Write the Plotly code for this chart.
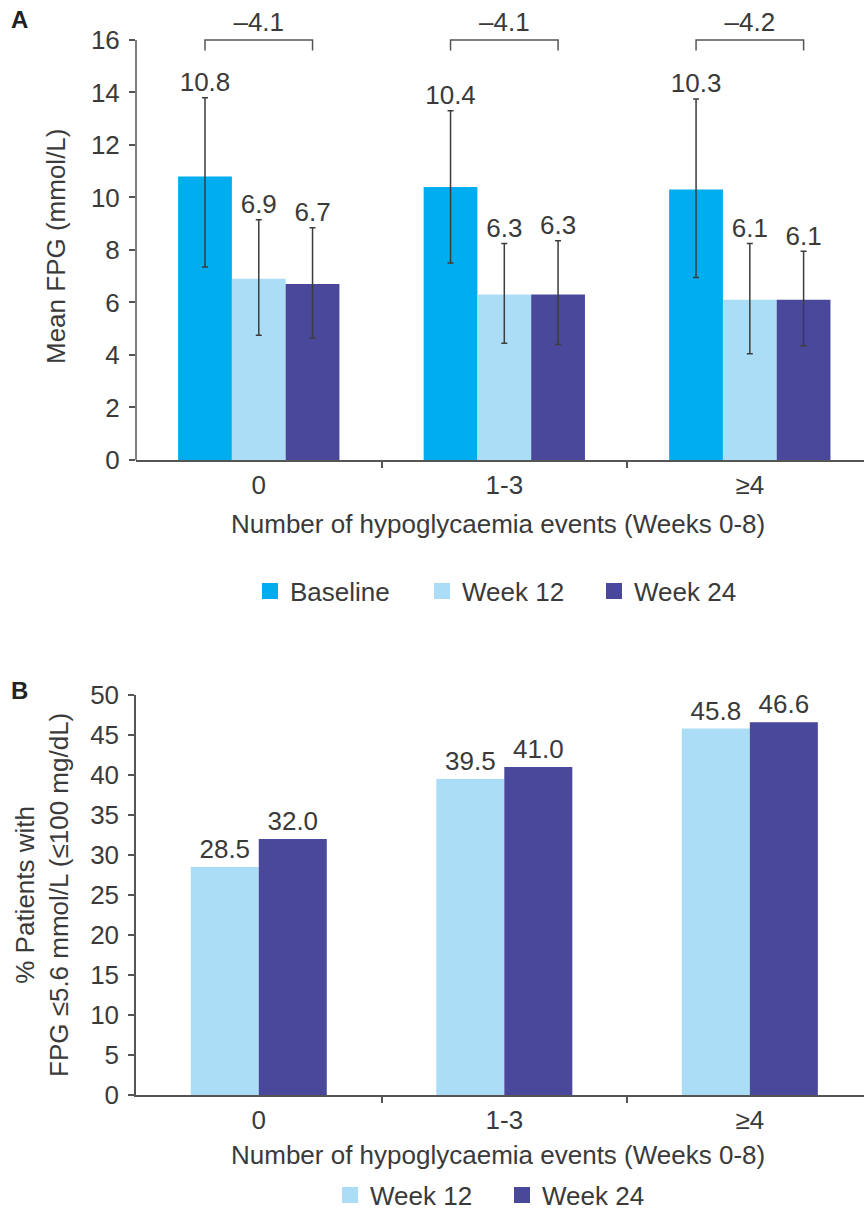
import plotly.graph_objects as go

# ---------------- data ----------------
categories = ["0", "1-3", "≥4"]
series_a = ["Baseline", "Week 12", "Week 24"]
fpg_mean = {
    "Baseline": [10.8, 10.4, 10.3],
    "Week 12": [6.9, 6.3, 6.1],
    "Week 24": [6.7, 6.3, 6.1],
}
fpg_upper = {
    "Baseline": [13.8, 13.3, 13.75],
    "Week 12": [9.15, 8.25, 8.25],
    "Week 24": [8.85, 8.35, 7.95],
}
fpg_lower = {
    "Baseline": [7.35, 7.5, 6.95],
    "Week 12": [4.75, 4.45, 4.05],
    "Week 24": [4.65, 4.4, 4.35],
}
change_labels = ["–4.1", "–4.1", "–4.2"]

series_b = ["Week 12", "Week 24"]
pct_target = {
    "Week 12": [28.5, 39.5, 45.8],
    "Week 24": [32.0, 41.0, 46.6],
}

yticks_a = [0, 2, 4, 6, 8, 10, 12, 14, 16]
yticks_b = [0, 5, 10, 15, 20, 25, 30, 35, 40, 45, 50]

colors = {"Baseline": "#00AEEF", "Week 12": "#ABDEF6", "Week 24": "#49489B"}

# ---------------- style ----------------
W, H = 864, 1218
FONT = "Liberation Sans, Arial, Helvetica, sans-serif"
TXT = "#3a3a3a"
AX = "#555555"
FS = 26

def px(xp):
    return xp / W

def py(yp):
    return 1 - yp / H

fig = go.Figure()
idx = list(range(len(categories)))

# ---- panel A ----
wa = 0.219
for j, s in enumerate(series_a):
    off = (j - 1) * wa
    xs = [i + off for i in idx]
    up = [u - m for u, m in zip(fpg_upper[s], fpg_mean[s])]
    dn = [m - l for m, l in zip(fpg_mean[s], fpg_lower[s])]
    fig.add_trace(go.Bar(
        x=xs, y=fpg_mean[s], width=wa, name=s, marker=dict(color=colors[s], line=dict(width=0)),
        error_y=dict(type="data", symmetric=False, array=up, arrayminus=dn,
                     color="#3c3c3c", thickness=1.5, width=3),
        xaxis="x", yaxis="y", showlegend=False,
    ))
    fig.add_trace(go.Scatter(
        x=xs, y=fpg_upper[s], mode="text", text=[f"{v:.1f}" for v in fpg_mean[s]],
        textposition="top center", textfont=dict(size=FS, color=TXT, family=FONT),
        cliponaxis=False, showlegend=False, hoverinfo="skip", xaxis="x", yaxis="y",
    ))
    # legend entry (square swatch)
    fig.add_trace(go.Scatter(
        x=[None], y=[None], mode="markers", name=s,
        marker=dict(symbol="square", size=16, color=colors[s]),
        xaxis="x", yaxis="y", legend="legend", showlegend=True,
    ))

# brackets
for i in idx:
    xl, xr = i - wa, i + wa
    fig.add_trace(go.Scatter(
        x=[xl, xl, xr, xr], y=[15.6, 16, 16, 15.6], mode="lines",
        line=dict(color=AX, width=1.5), showlegend=False, hoverinfo="skip",
        xaxis="x", yaxis="y",
    ))
fig.add_trace(go.Scatter(
    x=idx, y=[16.1] * len(idx), mode="text", text=change_labels,
    textposition="top center", textfont=dict(size=FS, color=TXT, family=FONT),
    cliponaxis=False, showlegend=False, hoverinfo="skip", xaxis="x", yaxis="y",
))

# ---- panel B ----
wb = 0.277
for j, s in enumerate(series_b):
    off = (j - 0.5) * wb
    xs = [i + off for i in idx]
    fig.add_trace(go.Bar(
        x=xs, y=pct_target[s], width=wb, name=s, marker=dict(color=colors[s], line=dict(width=0)),
        text=[f"{v:.1f}" for v in pct_target[s]], textposition="outside",
        textfont=dict(size=FS, color=TXT, family=FONT), cliponaxis=False,
        xaxis="x2", yaxis="y2", showlegend=False,
    ))
    fig.add_trace(go.Scatter(
        x=[None], y=[None], mode="markers", name=s,
        marker=dict(symbol="square", size=16, color=colors[s]),
        xaxis="x2", yaxis="y2", legend="legend2", showlegend=True,
    ))

xdom = [px(136), 1.0]
xrange_ = [-0.5, 2.465]

def xaxis_cfg(anchor):
    return dict(
        domain=xdom, range=xrange_, anchor=anchor,
        tickmode="array", tickvals=idx, ticktext=categories,
        ticks="outside", ticklen=1, tickcolor="rgba(0,0,0,0)",
        minor=dict(tickmode="array", tickvals=[0.5, 1.5], ticks="outside",
                   ticklen=6, tickwidth=1.5, tickcolor=AX),
        showline=True, linecolor=AX, linewidth=1.5,
        showgrid=False, zeroline=False, fixedrange=True,
        tickfont=dict(size=FS, color=TXT, family=FONT), ticklabelstandoff=0,
    )

legend_common = dict(
    orientation="h", xanchor="left", yanchor="middle",
    entrywidth=127, entrywidthmode="pixels", itemsizing="trace",
    font=dict(size=FS, color=TXT, family=FONT),
    bgcolor="rgba(0,0,0,0)", traceorder="normal",
)

fig.update_layout(
    width=W, height=H, margin=dict(l=0, r=0, t=0, b=0, autoexpand=False),
    paper_bgcolor="white", plot_bgcolor="white",
    barmode="overlay",
    font=dict(family=FONT, size=FS, color=TXT),
    xaxis=xaxis_cfg("y"),
    yaxis=dict(
        domain=[py(460), 1.0], range=[0, 17.52], anchor="x",
        tickmode="array", tickvals=yticks_a,
        ticks="outside", ticklen=6, tickwidth=1.5, tickcolor=AX,
        showline=False, showgrid=False, zeroline=False,
        tickfont=dict(size=FS, color=TXT, family=FONT), ticklabelstandoff=4,
    ),
    xaxis2=xaxis_cfg("y2"),
    yaxis2=dict(
        domain=[py(1095), py(695)], range=[0, 50], anchor="x2",
        tickmode="array", tickvals=yticks_b,
        ticks="outside", ticklen=6, tickwidth=1.5, tickcolor=AX,
        showline=True, linecolor=AX, linewidth=1.5,
        showgrid=False, zeroline=False,
        tickfont=dict(size=FS, color=TXT, family=FONT), ticklabelstandoff=4,
    ),
    legend=dict(x=px(250), y=py(591), **legend_common),
    legend2=dict(x=px(330), y=py(1195), **legend_common),
    shapes=[dict(type="line", xref="paper", yref="y", x0=px(136), x1=px(136), y0=0, y1=16,
                 line=dict(color=AX, width=1.5), layer="above")],
    annotations=[
        dict(text="<b>A</b>", x=px(19), y=py(19), xref="paper", yref="paper",
             xanchor="center", yanchor="middle",
             showarrow=False, font=dict(size=24, color="#222", family=FONT)),
        dict(text="<b>B</b>", x=px(19), y=py(690), xref="paper", yref="paper",
             xanchor="center", yanchor="middle",
             showarrow=False, font=dict(size=24, color="#222", family=FONT)),
        dict(text="Mean FPG (mmol/L)", x=px(56), y=py(246), xref="paper", yref="paper",
             xanchor="center", yanchor="middle",
             textangle=-90, showarrow=False, font=dict(size=FS, color=TXT, family=FONT)),
        dict(text="% Patients with<br>FPG ≤5.6 mmol/L (≤100 mg/dL)", x=px(42), y=py(895),
             xref="paper", yref="paper", xanchor="center", yanchor="middle",
             textangle=-90, showarrow=False,
             font=dict(size=FS, color=TXT, family=FONT)),
        dict(text="Number of hypoglycaemia events (Weeks 0-8)", x=px(498), y=py(524),
             xref="paper", yref="paper", xanchor="center", yanchor="middle", showarrow=False,
             font=dict(size=FS, color=TXT, family=FONT)),
        dict(text="Number of hypoglycaemia events (Weeks 0-8)", x=px(498), y=py(1155),
             xref="paper", yref="paper", xanchor="center", yanchor="middle", showarrow=False,
             font=dict(size=FS, color=TXT, family=FONT)),
    ],
)

fig.write_html("out.html", config={"displayModeBar": False},
               post_script="document.body.style.margin='0px';")
